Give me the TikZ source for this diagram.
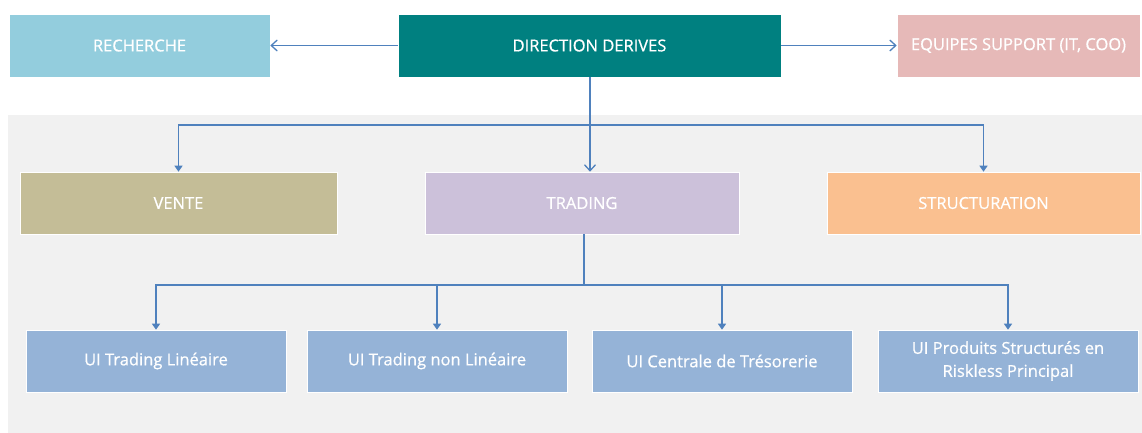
\documentclass[tikz,border=0pt]{standalone}
\usepackage{fontspec}
\setmainfont{Open Sans}
\newfontfamily\lblfont{Open Sans}[FakeBold=0.7]
\usetikzlibrary{arrows.meta}
\definecolor{cRech}{HTML}{93CDDD}
\definecolor{cDir}{HTML}{008080}
\definecolor{cEqu}{HTML}{E6B9B8}
\definecolor{cVente}{HTML}{C4BD97}
\definecolor{cTrad}{HTML}{CCC1DA}
\definecolor{cStruct}{HTML}{FAC090}
\definecolor{cUI}{HTML}{95B3D7}
\definecolor{cLine}{HTML}{4F81BD}
\definecolor{cBg}{HTML}{F1F1F1}
\begin{document}
\begin{tikzpicture}[x=1pt,y=-1pt,
  unit/.style={draw=white, line width=0.6pt, inner sep=2pt, text=white, align=center,
    font=\lblfont\fontsize{16.5}{23}\selectfont},
  topbox/.style={unit, minimum height=63pt},
  midbox/.style={unit, minimum height=62pt},
  uibox/.style={unit, fill=cUI, minimum height=62pt, minimum width=260pt},
  link/.style={draw=cLine, line width=1.4pt},
  openarr/.style={link, -{Straight Barb[length=6pt,width=11pt,line width=1.3pt]}},
  fillarr/.style={link, -{Triangle[length=6pt,width=8pt]}}
]
\useasboundingbox (0,0) rectangle (1142,433);
\fill[cBg] (8,115) rectangle (1142,433);

\node[topbox, fill=cRech, minimum width=261pt] (rech) at (139.5,45.5) {RECHERCHE};
\node[topbox, fill=cDir, minimum width=383pt] (dir) at (589.5,45.5) {DIRECTION DERIVES};
\node[topbox, fill=cEqu, minimum width=243pt] (equ) at (1018.5,45.5) {EQUIPES SUPPORT (IT, COO)};

\node[midbox, fill=cVente, minimum width=317pt] (vente) at (178.5,203) {VENTE};
\node[midbox, fill=cTrad, minimum width=314pt] (trad) at (582,203) {TRADING};
\node[midbox, fill=cStruct, minimum width=313pt] (struct) at (983.5,203) {STRUCTURATION};

\node[uibox] (ui1) at (156,361) {UI Trading Linéaire};
\node[uibox] (ui2) at (437,361) {UI Trading non Linéaire};
\node[uibox] (ui3) at (722,361) {UI Centrale de Trésorerie};
\node[uibox] (ui4) at (1008,361) {UI Produits Structurés en\\Riskless Principal};

\draw[openarr] (dir.west) -- (rech.east);
\draw[openarr] (dir.east) -- (equ.west);

\coordinate (j1) at (590,125);
\coordinate (j2) at (584,285);
\draw[openarr] (dir.south -| j1) -- (trad.north -| j1);
\draw[fillarr] (j1) -| (vente.north);
\draw[fillarr] (j1) -| (struct.north);

\draw[link] (trad.south -| j2) -- (j2);
\draw[fillarr] (j2) -| (ui1.north);
\draw[fillarr] (j2) -| (ui2.north);
\draw[fillarr] (j2) -| (ui3.north);
\draw[fillarr] (j2) -| (ui4.north);
\end{tikzpicture}
\end{document}
